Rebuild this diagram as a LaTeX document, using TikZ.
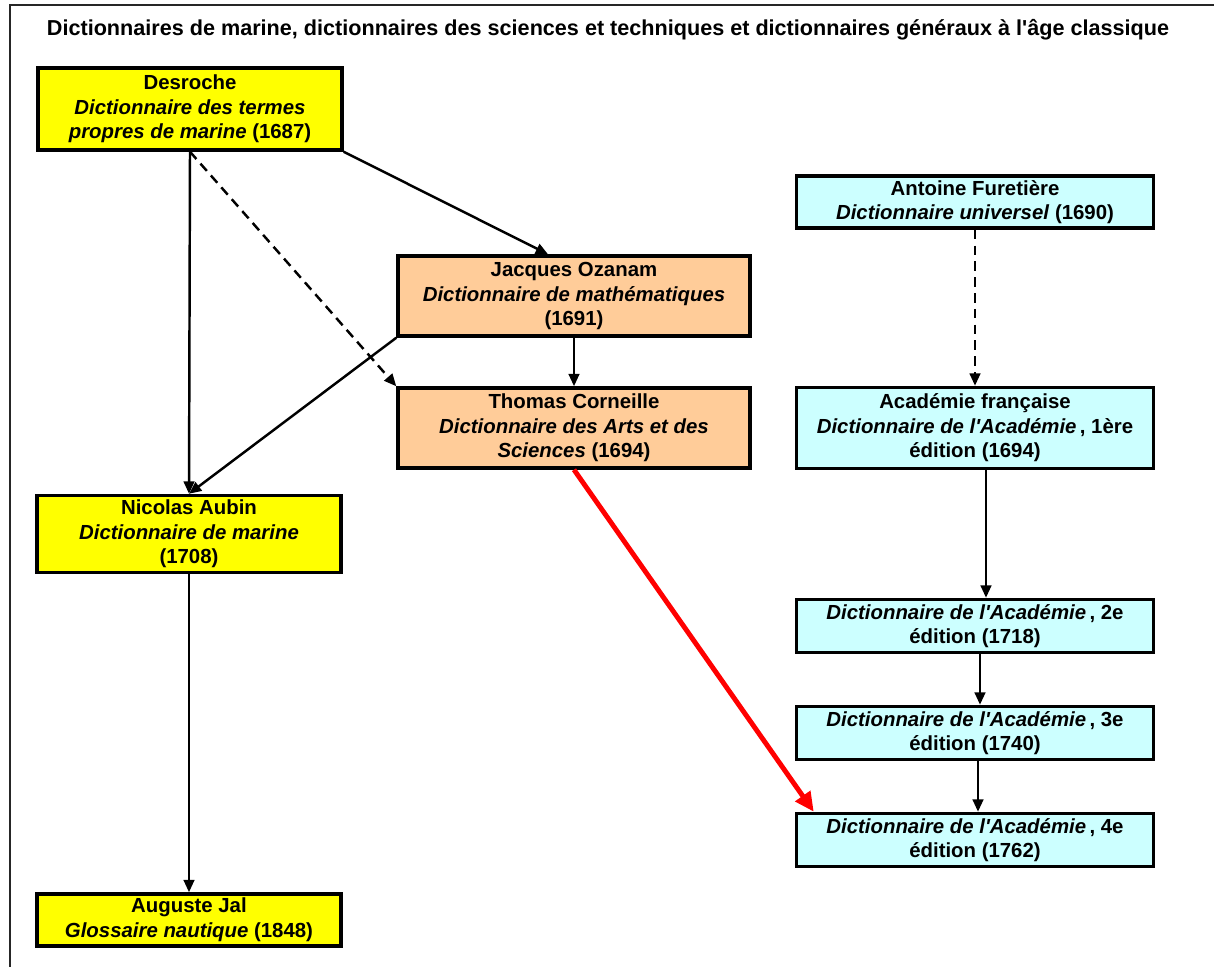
\documentclass[tikz,border=0pt]{standalone}
\usepackage{fontspec}
\setmainfont{Liberation Sans}
\usetikzlibrary{arrows.meta}
\definecolor{marine}{RGB}{255,255,0}
\definecolor{sciences}{RGB}{255,204,153}
\definecolor{academie}{RGB}{204,255,255}
\newcommand{\apos}{\textquotesingle}

\begin{document}
\begin{tikzpicture}[x=0.02cm,y=-0.02cm,
    font=\fontsize{11.6}{14}\selectfont\bfseries,
    >={Triangle[length=7pt,width=6pt]},
    box/.style={draw,line width=2pt,align=center,inner sep=1pt},
    marinebox/.style={box,fill=marine,minimum width=6.08cm},
    sciencebox/.style={box,fill=sciences,minimum width=7.04cm,minimum height=1.6cm},
    acadbox/.style={box,fill=academie,minimum width=7.14cm},
    link/.style={->,line width=1.4pt},
    dashlink/.style={link,dash pattern=on 5.5pt off 3.5pt},
    biglink/.style={-{Triangle[length=11pt,width=10pt]},line width=2.8pt,red}]
  \useasboundingbox (0,0) rectangle (1214,967);
  \draw[line width=1.6pt,black!85] (10,967) -- (10,5) -- (1214,5);
  \node[font=\fontsize{12.3}{14}\selectfont\bfseries] (titre) at (608,30) {Dictionnaires de marine, dictionnaires des sciences et techniques et dictionnaires généraux à l\apos âge classique};

  % marine
  \node[marinebox,minimum height=1.64cm] (desroche) at (190,109) {Desroche\\ \textit{Dictionnaire des termes}\\ \textit{propres de marine} (1687)};
  \node[marinebox,minimum height=1.54cm] (aubin) at (189,534) {Nicolas Aubin\\ \textit{Dictionnaire de marine}\\ (1708)};
  \node[marinebox,minimum height=1.04cm] (jal) at (189,920) {Auguste Jal\\ \textit{Glossaire nautique} (1848)};

  % sciences et techniques
  \node[sciencebox] (ozanam) at (574,296) {Jacques Ozanam\\ \textit{Dictionnaire de mathématiques}\\ (1691)};
  \node[sciencebox] (corneille) at (574,428) {Thomas Corneille\\ \textit{Dictionnaire des Arts et des}\\ \textit{Sciences} (1694)};

  % dictionnaires generaux
  \node[acadbox,minimum height=1.04cm] (furetiere) at (975,202) {Antoine Furetière\\ \textit{Dictionnaire universel} (1690)};
  \node[acadbox,minimum height=1.62cm] (acad1) at (975,428) {Académie française\\ \textit{Dictionnaire de l\apos Académie}\,, 1ère\\ édition (1694)};
  \node[acadbox,minimum height=1.06cm] (acad2) at (975,626) {\textit{Dictionnaire de l\apos Académie}\,, 2e\\ édition (1718)};
  \node[acadbox,minimum height=1.06cm] (acad3) at (975,733) {\textit{Dictionnaire de l\apos Académie}\,, 3e\\ édition (1740)};
  \node[acadbox,minimum height=1.06cm] (acad4) at (975,840) {\textit{Dictionnaire de l\apos Académie}\,, 4e\\ édition (1762)};

  \draw[link] (desroche.south) -- (aubin.north);
  \draw[dashlink] (desroche.south) -- (corneille.north west);
  \draw[link] (desroche.south east) -- ([xshift=-0.52cm]ozanam.north);
  \draw[link] (ozanam.south west) -- (aubin.north);
  \draw[link] (ozanam.south) -- (corneille.north);
  \draw[link] (aubin.south) -- (jal.north);
  \draw[biglink] (corneille.south) -- ([xshift=0.38cm]acad4.north west);
  \draw[dashlink] (furetiere.south) -- (acad1.north);
  \draw[link] ([xshift=0.22cm]acad1.south) -- ([xshift=0.22cm]acad2.north);
  \draw[link] ([xshift=0.1cm]acad2.south) -- ([xshift=0.1cm]acad3.north);
  \draw[link] ([xshift=0.06cm]acad3.south) -- ([xshift=0.06cm]acad4.north);
\end{tikzpicture}
\end{document}
